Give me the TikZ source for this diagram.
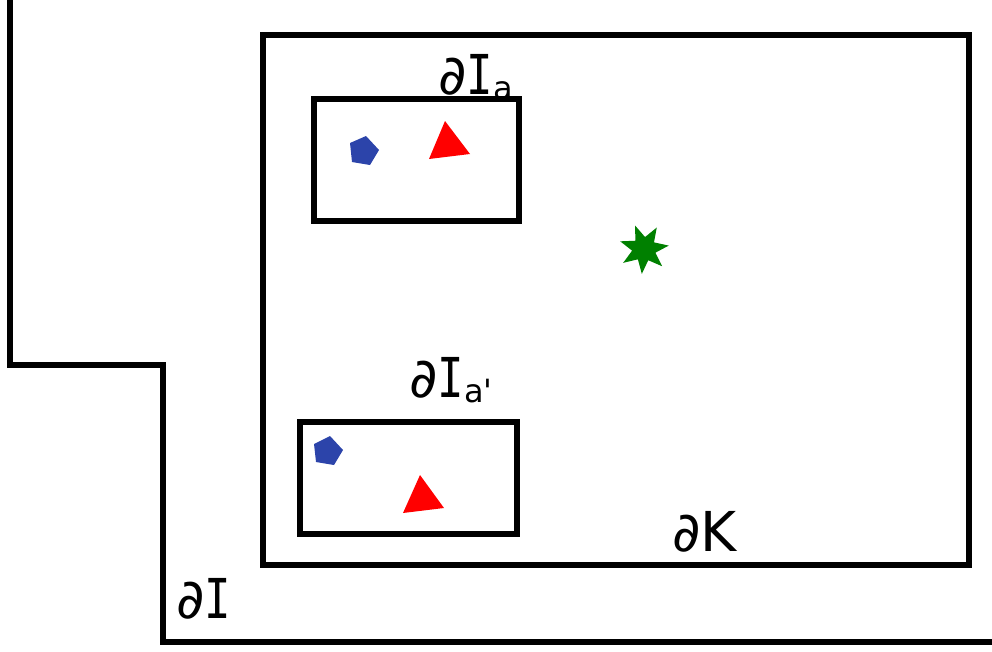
\documentclass[tikz,border=0pt]{standalone}
\usepackage{fontspec}
\usepackage{graphicx}
\usetikzlibrary{calc}
\setmainfont{DejaVu Sans}
\newfontfamily\monoI{DejaVu Sans Mono}
\newfontfamily\subfont{DejaVu Sans}
\definecolor{penblue}{RGB}{44,68,170}
\definecolor{stargreen}{RGB}{0,128,0}
\definecolor{trired}{RGB}{255,0,0}
\newcommand{\serifI}{\scalebox{0.8}[1]{\monoI I}}
\newcommand{\mysub}[1]{{\subfont\fontsize{32}{32}\selectfont\raisebox{-5pt}{#1}}}
\begin{document}
\begin{tikzpicture}[x=1pt,y=-1pt,
  border/.style={line width=6pt,line join=miter},
  box/.style={line width=6pt},
  lbl/.style={anchor=base west,inner sep=0pt,font=\fontsize{55}{55}\selectfont},
  pent/.style={fill=penblue},
  tri/.style={fill=trired},
  ]
\useasboundingbox (0,0) rectangle (992,651);
% outer region boundary dI
\draw[border] (10,-5) -- (10,365) -- (163,365) -- (163,642) -- (1000,642);
% K rectangle
\draw[box] (263,35) rectangle (969,565);
% I_a rectangle
\draw[box] (314,99) rectangle (519,221);
% I_a' rectangle
\draw[box] (300,422) rectangle (517,534);
% shapes in I_a
\fill[pent] (350,143) -- (366,136) -- (379,150) -- (370,165) -- (352,162) -- cycle;
\fill[tri] (445,121) -- (470,154) -- (429,159) -- cycle;
% shapes in I_a'
\fill[pent] (314,444) -- (330,436) -- (343,450) -- (334,465) -- (316,462) -- cycle;
\fill[tri] (420,475) -- (444,508) -- (403,513) -- cycle;
% star
\coordinate (sc) at (644,249);
\fill[stargreen] ($(sc)+(95:25)$)
  \foreach \k in {0,...,6} { -- ($(sc)+({95+\k*360/7}:25)$) -- ($(sc)+({95+180/7+\k*360/7}:12)$) } -- cycle;
% labels
\node[lbl] (la) at (438,94) {∂\serifI\mysub{a}};
\node[lbl] (lap) at (409,397) {∂\serifI\mysub{a'}};
\node[lbl] (lk) at (672,551) {∂K};
\node[lbl] (li) at (176,618) {∂\serifI};
\end{tikzpicture}
\end{document}
